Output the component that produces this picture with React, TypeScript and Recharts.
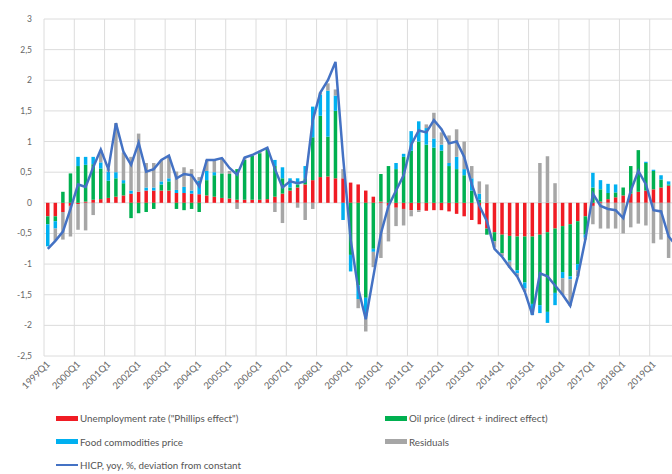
import {
  ComposedChart,
  Bar,
  Line,
  XAxis,
  YAxis,
  CartesianGrid,
} from "recharts";

const years = [
  1999, 2000, 2001, 2002, 2003, 2004, 2005, 2006, 2007, 2008, 2009,
  2010, 2011, 2012, 2013, 2014, 2015, 2016, 2017, 2018, 2019,
];
const quarterNames = ["Q1", "Q2", "Q3", "Q4"];
const quarters = years.flatMap((y) => quarterNames.map((q) => `${y}${q}`));

const yTicks = [-2.5, -2, -1.5, -1, -0.5, 0, 0.5, 1, 1.5, 2, 2.5, 3];

// one row per year, Q1..Q4
const unemployment = [
  -0.22, -0.22, -0.15, -0.05,
  -0.02, 0.02, 0.05, 0.06,
  0.08, 0.1, 0.12, 0.15,
  0.18, 0.2, 0.2, 0.2,
  0.2, 0.16, 0.16, 0.15,
  0.14, 0.12, 0.1, 0.08,
  0.07, 0.05, 0.05, 0.05,
  0.05, 0.06, 0.1, 0.15,
  0.2, 0.25, 0.3, 0.37,
  0.42, 0.43, 0.4, 0.4,
  0.33, 0.3, 0.2, 0.1,
  0.02, -0.05, -0.08, -0.1,
  -0.12, -0.12, -0.13, -0.12,
  -0.12, -0.14, -0.18, -0.22,
  -0.28, -0.35, -0.42, -0.48,
  -0.52, -0.54, -0.55, -0.55,
  -0.55, -0.52, -0.48, -0.42,
  -0.38, -0.35, -0.3, -0.22,
  -0.05, 0.02, 0.06, 0.09,
  0.12, 0.15, 0.18, 0.2,
  0.22, 0.25, 0.28, 0.3,
];

const oil = [
  -0.13, -0.08, 0.18, 0.48,
  0.6, 0.6, 0.58, 0.5,
  0.28, 0.3, 0.2, -0.25,
  -0.17, -0.15, -0.1, 0.1,
  0.15, -0.1, -0.12, -0.1,
  -0.15, 0.25, 0.35, 0.4,
  0.4, 0.5, 0.65, 0.72,
  0.76, 0.82, 0.5, 0.25,
  0.05, 0.05, 0.1, 0.7,
  1.0, 0.65, 1.1, 0,
  -0.85, -1.35, -1.55, -0.75,
  0.45, 0.6, 0.55, 0.75,
  0.85, 1.0, 0.95, 0.9,
  0.85, 0.6, 0.55, 0.45,
  0.2, 0.05, -0.1, -0.15,
  -0.3, -0.4, -0.55, -0.75,
  -1.1, -1.15, -1.3, -1.05,
  -0.75, -0.85, -0.7, -0.3,
  0.25, 0.2, 0.1, 0.08,
  0.13, 0.45, 0.68, 0.45,
  0.3, 0.13, 0.02, -0.05,
];

const food = [
  -0.36, -0.12, 0, 0,
  0.15, 0.13, 0.12, 0.1,
  0.15, 0.1, 0.05, 0.05,
  0, 0.05, 0.05, 0.05,
  0.05, 0.05, 0.1, 0.05,
  0.22, 0.15, 0.05, 0,
  0, 0, 0, 0,
  0, 0, 0.1, 0.18,
  0.15, 0.1, 0.2, 0.5,
  0.35, 0.75, 0.25, -0.28,
  -0.27, -0.22, -0.3, -0.05,
  0, 0, 0.1, 0.05,
  0.32, 0.33, 0.27, 0.15,
  0.1, 0.05, 0.2, 0.1,
  0.2, 0.1, 0, 0,
  0, -0.02, -0.05, -0.1,
  -0.18, -0.13, -0.18, -0.2,
  -0.1, -0.05, -0.1, -0.05,
  0.24, 0.15, 0.15, 0.13,
  0, 0, 0, 0.02,
  0.02, 0.07, 0.05, 0.05,
];

const residuals = [
  0, -0.2, -0.45, -0.5,
  -0.42, -0.45, -0.2, 0.2,
  0.05, 0.8, 0.45, 0.55,
  0.95, 0.4, 0.4, 0.35,
  0.35, 0.3, 0.32, 0.35,
  0.06, 0.18, 0.2, 0.25,
  0.05, -0.1, 0.04, 0,
  0.04, 0, -0.15, -0.33,
  0, -0.08, -0.28, -0.1,
  0.03, 0.12, 0.1, 0.15,
  0, -0.15, -0.25, -0.25,
  -0.9, -0.58, -0.3, -0.27,
  -0.1, -0.03, 0.06, 0.42,
  0.2, 0.45, 0.45, 0.45,
  0.2, 0.2, 0.3, -0.1,
  -0.05, -0.1, -0.05, -0.05,
  0, 0.65, 0.76, 0.32,
  -0.27, -0.43, -0.1, -0.03,
  -0.3, -0.42, -0.42, -0.42,
  -0.5, -0.4, -0.34, -0.37,
  -0.66, -0.6, -0.9, -0.95,
];

const hicp = [
  -0.75, -0.62, -0.47, -0.1,
  0.3, 0.26, 0.58, 0.87,
  0.55, 1.3, 0.83, 0.62,
  0.98, 0.51, 0.55, 0.7,
  0.77, 0.4, 0.47, 0.45,
  0.27, 0.7, 0.7, 0.73,
  0.57, 0.46, 0.74, 0.78,
  0.84, 0.9, 0.55, 0.25,
  0.35, 0.32, 0.35, 1.35,
  1.8, 2.0, 2.3, 0.75,
  -0.6, -1.4, -1.9, -1.2,
  -0.5, -0.05, 0.2, 0.45,
  0.95, 1.18, 1.15, 1.35,
  1.2, 0.97, 1.0, 0.75,
  0.3, -0.05, -0.3, -0.75,
  -0.88, -1.05, -1.2, -1.45,
  -1.83, -1.15, -1.2, -1.35,
  -1.5, -1.68, -1.2, -0.6,
  0.15, -0.05, -0.1, -0.12,
  -0.25, 0.2, 0.52, 0.3,
  -0.12, -0.14, -0.55, -0.7,
];

const data = quarters.map((q, i) => ({
  q,
  unemployment: unemployment[i],
  oil: oil[i],
  food: food[i],
  residuals: residuals[i],
  hicp: hicp[i],
}));

const COLORS = {
  unemployment: "#f01c24",
  oil: "#00b050",
  food: "#00b0f0",
  residuals: "#a6a6a6",
  hicp: "#4472c4",
};

const FONT = "Lato, 'Open Sans', sans-serif";

function QuarterTick({ x, y, payload }: any) {
  return (
    <text
      x={x}
      y={y}
      dy={4}
      textAnchor="end"
      fontSize={9.5}
      fontFamily={FONT}
      fill="#666"
      transform={`rotate(-45 ${x} ${y})`}
    >
      {payload.value}
    </text>
  );
}

// year boundaries: one vertical gridline every 4 quarters
function yearLines({ offset }: any) {
  const step = (offset.width / quarters.length) * 4;
  return [...years, 0].map((_, k) => offset.left + k * step);
}

const legendItems = [
  { label: "Unemployment rate (\"Phillips effect\")", color: COLORS.unemployment, line: false },
  { label: "Oil price (direct + indirect effect)", color: COLORS.oil, line: false },
  { label: "Food commodities price", color: COLORS.food, line: false },
  { label: "Residuals", color: COLORS.residuals, line: false },
  { label: "HICP, yoy, %, deviation from constant", color: COLORS.hicp, line: true },
];

export default function App() {
  return (
    <div style={frameStyle}>
      <ComposedChart
        width={684}
        height={396}
        data={data}
        stackOffset="sign"
        margin={{ top: 19, right: 4, bottom: 0, left: 0 }}
      >
        <CartesianGrid
          stroke="#dcdcdc"
          strokeWidth={1}
          verticalCoordinatesGenerator={yearLines}
        />
        <XAxis
          dataKey="q"
          interval={3}
          height={40}
          axisLine={false}
          tickLine={false}
          tickSize={0}
          tickMargin={6}
          tick={<QuarterTick />}
        />
        <YAxis
          type="number"
          domain={[-2.5, 3]}
          ticks={yTicks}
          width={44}
          axisLine={false}
          tickLine={false}
          tickSize={6}
          tickMargin={6}
          tickFormatter={(v: number) => String(v).replace(".", ",")}
          tick={{ fontSize: 8.5, fill: "#666", fontFamily: FONT }}
        />
        <Bar dataKey="unemployment" stackId="a" fill={COLORS.unemployment} barSize={3.5} isAnimationActive={false} />
        <Bar dataKey="oil" stackId="a" fill={COLORS.oil} barSize={3.5} isAnimationActive={false} />
        <Bar dataKey="food" stackId="a" fill={COLORS.food} barSize={3.5} isAnimationActive={false} />
        <Bar dataKey="residuals" stackId="a" fill={COLORS.residuals} barSize={3.5} isAnimationActive={false} />
        <Line
          type="linear"
          dataKey="hicp"
          stroke={COLORS.hicp}
          strokeWidth={2.5}
          dot={false}
          isAnimationActive={false}
        />
      </ComposedChart>
      <div style={legendStyle}>
        {legendItems.map((item) => (
          <div key={item.label} style={legendItemStyle}>
            <span
              style={{
                display: "inline-block",
                width: 22,
                height: item.line ? 2 : 5,
                background: item.color,
                marginRight: 2,
              }}
            />
            <span>{item.label}</span>
          </div>
        ))}
      </div>
    </div>
  );
}

const frameStyle: React.CSSProperties = {
  position: "fixed",
  top: 0,
  left: 0,
  width: 672,
  height: 474,
  overflow: "hidden",
  background: "#fff",
};

const legendStyle: React.CSSProperties = {
  position: "absolute",
  top: 412,
  left: 56,
  display: "grid",
  gridTemplateColumns: "329px 260px",
  rowGap: 11,
  fontFamily: FONT,
  fontSize: 9.8,
  color: "#555",
};

const legendItemStyle: React.CSSProperties = {
  display: "flex",
  alignItems: "center",
  height: 12.5,
  whiteSpace: "nowrap",
};
